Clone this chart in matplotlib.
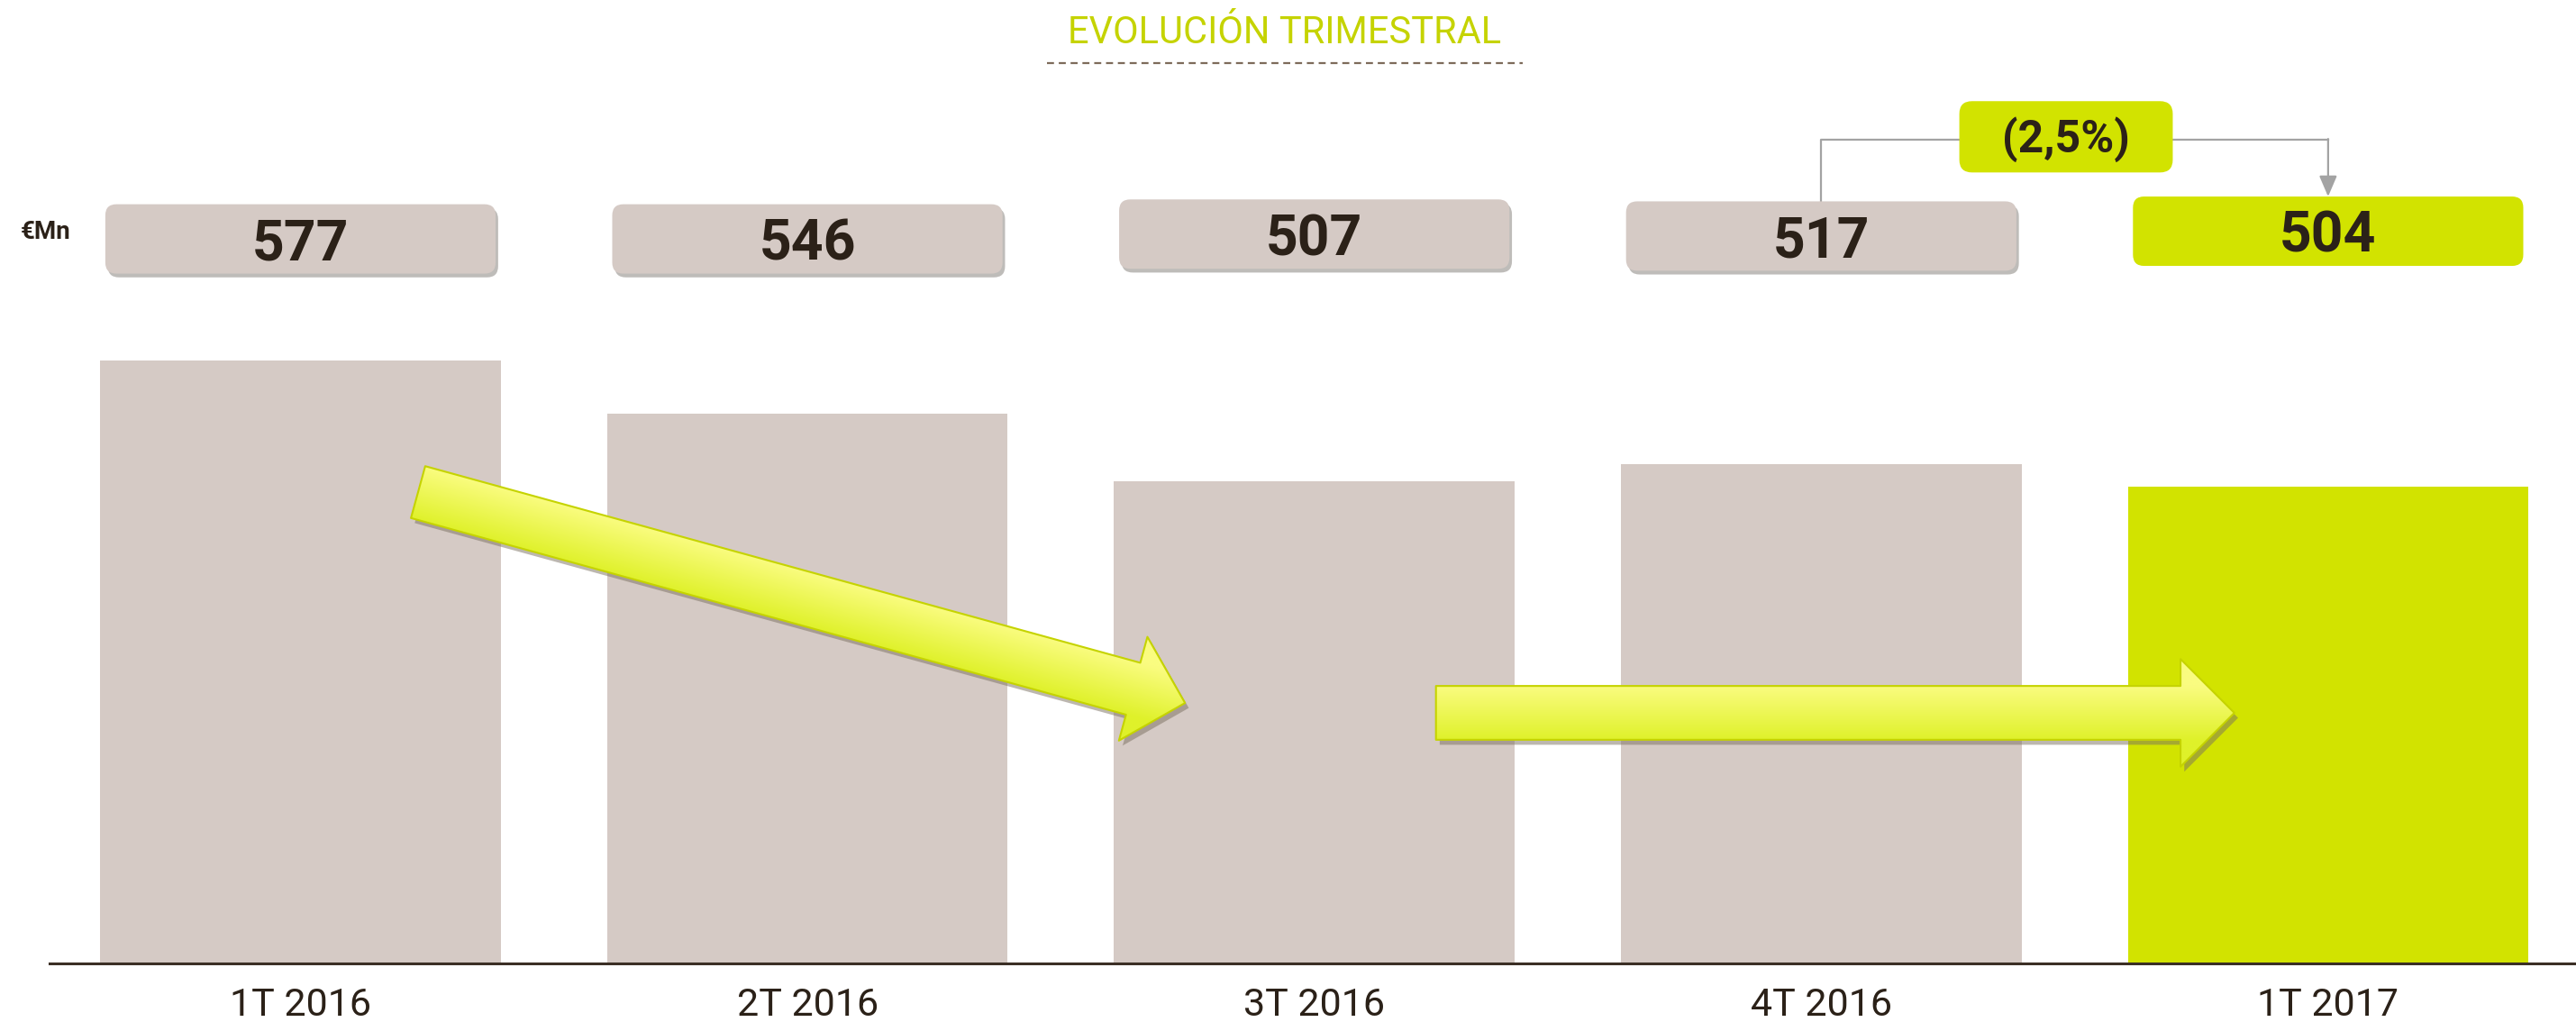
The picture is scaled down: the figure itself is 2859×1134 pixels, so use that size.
import numpy as np
import matplotlib.pyplot as plt
import matplotlib.transforms as mtransforms
from matplotlib.patches import FancyBboxPatch
from matplotlib.lines import Line2D
from matplotlib.colors import to_rgb
import matplotlib.patheffects as pe

# datos
trimestres = ['1T 2016', '2T 2016', '3T 2016', '4T 2016', '1T 2017']
valores = [577, 546, 507, 517, 504]
etiquetas = ['577', '546', '507', '517', '504']
variacion = '(2,5%)'

gris = '#d5cac5'
verde = '#d2e300'
texto = '#2b2118'

plt.rcParams['font.family'] = ['Roboto', 'DejaVu Sans']

fig = plt.figure(figsize=(28.59, 11.34), dpi=100)
ax = fig.add_axes([55 / 2859, 65 / 1134, 1 - 55 / 2859, 1069 / 1134])

colores = [gris] * (len(valores) - 1) + [verde]
x = list(range(len(valores)))
ax.bar(x, valores, width=0.79, color=colores, zorder=1)

xlim = (-0.495, 4.489)
ylim = (228.8, 784.8)
ax.set_xlim(*xlim)
ax.set_ylim(*ylim)
for s in ['top', 'right', 'left']:
    ax.spines[s].set_visible(False)
ax.spines['bottom'].set_color('#3b2f25')
ax.spines['bottom'].set_linewidth(2.2)
ax.set_yticks([])
ax.set_xticks(x)
ax.set_xticklabels(trimestres, fontsize=31, color=texto)
ax.tick_params(axis='x', length=0, pad=19)

# cajas con los valores
blend = mtransforms.blended_transform_factory(ax.transData, ax.transAxes)
asp = 562.6 / 1069
caja_y = [0.752, 0.752, 0.757, 0.755, 0.760]
caja_h = 0.072
caja_w = 0.77
for i, v in enumerate(etiquetas):
    fc = verde if i == len(etiquetas) - 1 else gris
    caja = FancyBboxPatch((i - caja_w / 2, caja_y[i] - caja_h / 2), caja_w, caja_h,
                          boxstyle='round,pad=0,rounding_size=0.022', mutation_aspect=asp,
                          transform=blend, fc=fc, ec='none', zorder=3)
    if i < len(etiquetas) - 1:
        caja.set_path_effects([pe.withSimplePatchShadow(offset=(2, -3), shadow_rgbFace='#8a8580', alpha=0.55)])
    ax.add_patch(caja)
    ax.text(i, caja_y[i] - 0.006, v, transform=blend, ha='center', va='center',
            fontsize=45, fontweight='bold', color=texto, zorder=4)

# variacion
var_x, var_y, var_w, var_h = 3.483, 0.858, 0.421, 0.074
ax.add_patch(FancyBboxPatch((var_x - var_w / 2, var_y - var_h / 2), var_w, var_h,
                            boxstyle='round,pad=0,rounding_size=0.025', mutation_aspect=asp,
                            transform=blend, fc=verde, ec='none', zorder=3))
ax.text(var_x, var_y - 0.003, variacion, transform=blend, ha='center', va='center',
        fontsize=36, fontweight='bold', color=texto, zorder=4)
linea_y = 0.855
ax.plot([3, 3, var_x - var_w / 2], [caja_y[3] + caja_h / 2, linea_y, linea_y],
        transform=blend, color='#a3a3a3', lw=1.6, zorder=2, clip_on=False)
ax.plot([var_x + var_w / 2, 4], [linea_y, linea_y],
        transform=blend, color='#a3a3a3', lw=1.6, zorder=2, clip_on=False)
ax.annotate('', xy=(4, caja_y[4] + caja_h / 2), xytext=(4, linea_y + 0.0008),
            xycoords=blend, textcoords=blend,
            arrowprops=dict(arrowstyle='-|>,head_length=0.7,head_width=0.3', color='#a3a3a3',
                            lw=1.6, shrinkA=0, shrinkB=0, mutation_scale=20), zorder=2)

# flechas
flechas = [((0.232, 500.8), (1.745, 379.1)), ((2.240, 373.4), (3.815, 373.4))]
estilo = 'simple,head_length=43,head_width=86,tail_width=43'
anots = []
for desde, hasta in flechas:
    a = ax.annotate('', xy=hasta, xytext=desde,
                    arrowprops=dict(arrowstyle=estilo, mutation_scale=1, fc='#ecf652', ec='none',
                                    shrinkA=0, shrinkB=0), zorder=5)
    a.arrow_patch.set_path_effects([pe.withSimplePatchShadow(offset=(3, -4), shadow_rgbFace='#7a7060', alpha=0.5),
                                    pe.Normal()])
    anots.append(a)

fig.canvas.draw()

# degradado dentro de cada flecha
claro = np.array(to_rgb('#fafc80'))
oscuro = np.array(to_rgb('#dff12a'))
for a, (desde, hasta) in zip(anots, flechas):
    p0 = ax.transData.transform(desde)
    p1 = ax.transData.transform(hasta)
    d = (p1 - p0) / np.hypot(*(p1 - p0))
    n = np.array([-d[1], d[0]])
    verts = a.arrow_patch.get_transform().transform(a.arrow_patch.get_path().vertices)
    (dx0, dy0), (dx1, dy1) = verts.min(axis=0) - 4, verts.max(axis=0) + 4
    gx, gy = np.meshgrid(np.linspace(dx0, dx1, 300), np.linspace(dy0, dy1, 200))
    t = ((gx - p0[0]) * n[0] + (gy - p0[1]) * n[1]) / 30.0
    t = np.clip((t + 1) / 2, 0, 1)[..., None]
    img = oscuro * (1 - t) + claro * t
    (ex0, ey0), (ex1, ey1) = ax.transData.inverted().transform([[dx0, dy0], [dx1, dy1]])
    im = ax.imshow(img, extent=(ex0, ex1, ey0, ey1), origin='lower', aspect='auto',
                   interpolation='bilinear', zorder=5.5)
    im.set_clip_path(a.arrow_patch)
    ax.annotate('', xy=hasta, xytext=desde,
                arrowprops=dict(arrowstyle=estilo, mutation_scale=1, fc='none', ec='#c5d300', lw=1.5,
                                shrinkA=0, shrinkB=0), zorder=6)
ax.set_xlim(*xlim)
ax.set_ylim(*ylim)
ax.set_aspect('auto')

# titulo
fig.text(1426 / 2859, 1 - 36 / 1134, 'EVOLUCIÓN TRIMESTRAL', ha='center', va='center',
         fontsize=30, color='#c5d300')
fig.add_artist(Line2D([1162 / 2859, 1690 / 2859], [1 - 70 / 1134] * 2, transform=fig.transFigure,
                      color='#7d6b5a', lw=1.6, linestyle=(0, (3.5, 2.4))))
fig.text(23 / 2859, 1 - 258 / 1134, '€Mn', ha='left', va='center', fontsize=20,
         fontweight='bold', color=texto)

fig.savefig('out.png', dpi=100)
